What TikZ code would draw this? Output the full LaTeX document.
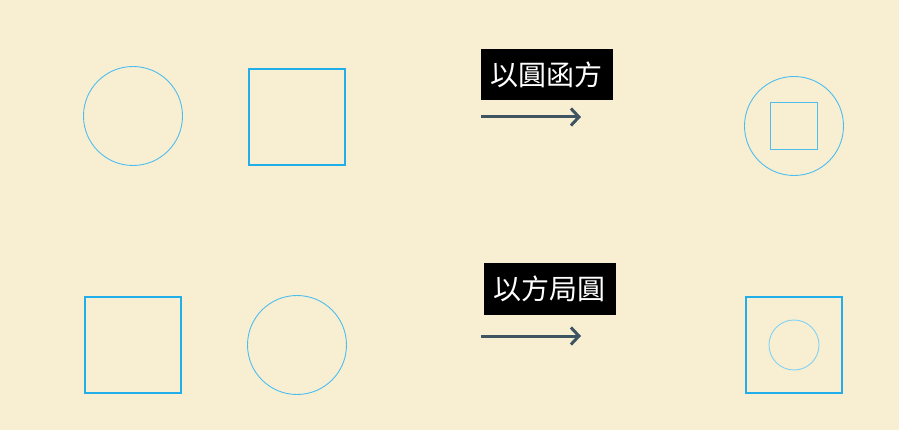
\documentclass[tikz,border=0pt]{standalone}
\usepackage{fontspec}
\newfontfamily\cjk{Noto Sans CJK TC}
\usetikzlibrary{arrows.meta}
\definecolor{paper}{HTML}{F8EFD3}
\definecolor{skyline}{HTML}{22ADEB}
\definecolor{skythin}{HTML}{4DBDEE}
\definecolor{slate}{HTML}{3E5460}
\tikzset{
  roundshape/.style = {draw = skythin, line width = 0.9pt, circle, inner sep = 0pt},
  squareshape/.style = {draw = skyline, line width = 2.2pt, rectangle, inner sep = 0pt},
  tagbox/.style = {fill = black, text = white, font = \cjk\fontsize{28}{30}\selectfont,
                   minimum width = 132pt, minimum height = 51pt, inner sep = 0pt},
  turnarrow/.style = {draw = slate, line width = 3pt, -{Straight Barb[length = 8pt, width = 17pt, line width = 3pt]}}
}
\begin{document}
\begin{tikzpicture}[x = 1pt, y = -1pt]
                \fill[paper] (0,0) rectangle (899,430);
                \useasboundingbox (0,0) rectangle (899,430);
                % top row
                \node[roundshape, minimum size = 99pt] (circA) at (133,116) {};
                \node[squareshape, minimum size = 96pt] (sqA) at (297,117) {};
                \node[tagbox] (tagA) at (546.5,75) {以圓函方};
                \coordinate (arrA0) at (481,117);
                \coordinate (arrA1) at (581,117);
                \draw[turnarrow] (arrA0) -- (arrA1);
                \node[roundshape, minimum size = 99pt] (circAout) at (794,126) {};
                \node[squareshape, draw = skythin, line width = 1.6pt, minimum size = 47pt] (sqAin) at (794,126) {};
                % bottom row
                \node[squareshape, minimum size = 96pt] (sqB) at (133,345) {};
                \node[roundshape, minimum size = 99pt] (circB) at (297,345) {};
                \node[tagbox] (tagB) at (549.5,289) {以方局圓};
                \coordinate (arrB0) at (481,336);
                \coordinate (arrB1) at (581,336);
                \draw[turnarrow] (arrB0) -- (arrB1);
                \node[squareshape, minimum size = 96pt] (sqBout) at (794,345) {};
                \node[roundshape, draw = skythin!70, minimum size = 50pt] (circBin) at (794,345) {};
            \end{tikzpicture}
\end{document}
